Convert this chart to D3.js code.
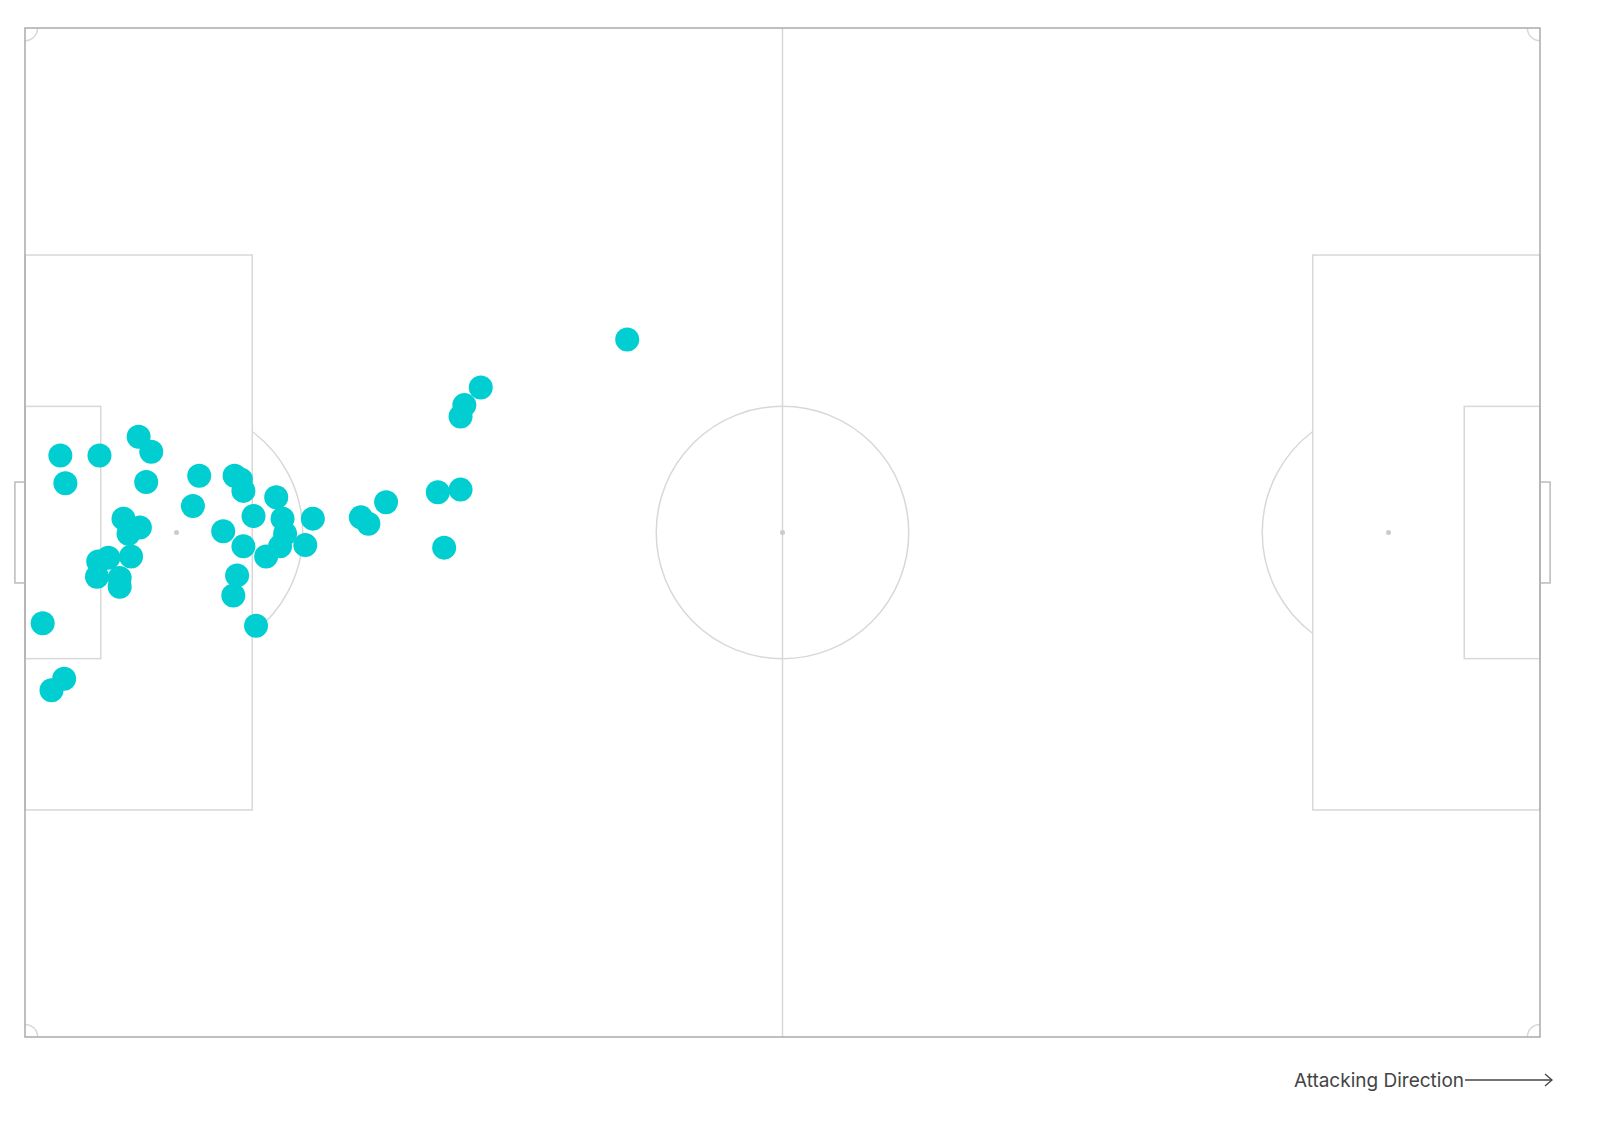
<!DOCTYPE html>
<html><head><meta charset="utf-8">
<script src="https://cdn.jsdelivr.net/npm/d3@7"></script>
<style>body{margin:0;background:#fff}</style></head>
<body><svg id="c" width="1600" height="1137"></svg>
<script>
const shotX=[47.7,36.1,34.8,34.5,9.0,10.0,2.8,5.9,3.2,9.6,13.8,16.6,17.1,17.3,19.9,13.3,18.1,20.4,22.8,26.6,27.2,28.6,32.7,34.5,33.2,7.8,9.1,8.2,15.7,20.6,17.3,20.2,22.2,19.1,8.4,5.8,6.6,7.5,5.7,7.5,16.8,16.5,18.3,1.4,3.1,2.1];
const shotY=[24.7,28.5,29.9,30.8,32.4,33.6,33.9,33.9,36.1,36.0,35.5,35.5,35.8,36.7,37.2,37.9,38.7,38.9,38.9,38.8,39.3,37.6,36.8,36.6,41.2,38.9,39.6,40.1,39.9,40.1,41.1,41.1,41.0,41.9,41.9,42.3,42.0,43.6,43.5,44.3,43.4,45.0,47.4,47.2,51.6,52.5];
const svg=d3.select("#c");
const x=d3.scaleLinear().domain([0,120]).range([25,1540]);
const y=d3.scaleLinear().domain([0,80]).range([28,1037]);
const k=x(1)-x(0);
const g=svg.append("g");
const L="#d8d8d8";
function rect(x0,y0,x1,y1,c){g.append("rect").attr("x",x(x0)).attr("y",y(y0)).attr("width",x(x1)-x(x0)).attr("height",y(y1)-y(y0)).attr("fill","none").attr("stroke",c||L).attr("stroke-width",1.5);}
rect(-0.8,36,0,44,"#bbb");rect(120,36,120.8,44,"#bbb");
rect(0,18,18,62);rect(0,30,6,50);rect(102,18,120,62);rect(114,30,120,50);
g.append("line").attr("x1",x(60)).attr("x2",x(60)).attr("y1",y(0)).attr("y2",y(80)).attr("stroke",L).attr("stroke-width",1.5);
g.append("circle").attr("cx",x(60)).attr("cy",y(40)).attr("r",10*k).attr("fill","none").attr("stroke",L).attr("stroke-width",1.5);
[[60],[12],[108]].forEach(d=>g.append("circle").attr("cx",x(d[0])).attr("cy",y(40)).attr("r",2.5).attr("fill","#ccc"));
const arc=d3.arc();
const a=Math.acos(6/10);
g.append("path").attr("transform",`translate(${x(12)},${y(40)})`).attr("d",arc({innerRadius:10*k,outerRadius:10*k,startAngle:Math.PI/2-a,endAngle:Math.PI/2+a})).attr("fill","none").attr("stroke",L).attr("stroke-width",1.5);
g.append("path").attr("transform",`translate(${x(108)},${y(40)})`).attr("d",arc({innerRadius:10*k,outerRadius:10*k,startAngle:-Math.PI/2-a,endAngle:-Math.PI/2+a})).attr("fill","none").attr("stroke",L).attr("stroke-width",1.5);
[[0,0,Math.PI/2,Math.PI],[120,0,Math.PI,1.5*Math.PI],[0,80,0,Math.PI/2],[120,80,1.5*Math.PI,2*Math.PI]].forEach(c=>{
 g.append("path").attr("transform",`translate(${x(c[0])},${y(c[1])})`).attr("d",arc({innerRadius:k,outerRadius:k,startAngle:c[2],endAngle:c[3]})).attr("fill","none").attr("stroke",L).attr("stroke-width",1.5);});
rect(0,0,120,80,"#aaa");
svg.append("g").selectAll("circle").data(shotX).join("circle").attr("cx",d=>x(d)).attr("cy",(d,i)=>y(shotY[i])).attr("r",12).attr("fill","#00ced1");
svg.append("text").attr("x",1464).attr("y",1087).attr("text-anchor","end").attr("font-family","Inter, sans-serif").attr("font-size",19).attr("fill","#444").text("Attacking Direction");
svg.append("line").attr("x1",1465).attr("x2",1552).attr("y1",1080).attr("y2",1080).attr("stroke","#444").attr("stroke-width",1.3);
svg.append("path").attr("d","M1545,1074 L1552,1080 L1545,1086").attr("fill","none").attr("stroke","#444").attr("stroke-width",1.3);
</script></body></html>
